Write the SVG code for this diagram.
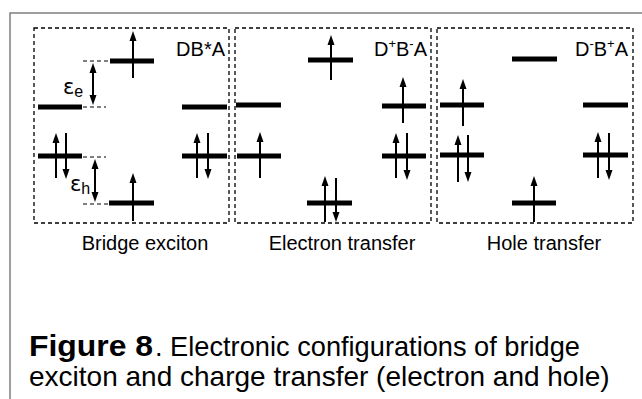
<svg xmlns="http://www.w3.org/2000/svg" width="642" height="399" viewBox="0 0 642 399">
<defs>
<marker id="ah" markerUnits="userSpaceOnUse" markerWidth="10" markerHeight="8" refX="0" refY="3.5" orient="auto-start-reverse" viewBox="0 0 10 7">
<path d="M0,0 L10,3.5 L0,7 z" fill="#000"/>
</marker>
</defs>
<style>
.frame{fill:none;stroke:#7f7f7f;stroke-width:1.5}
.box{fill:none;stroke:#000;stroke-width:1.3;stroke-dasharray:4 3}
.lvl{fill:#000}
.sp{stroke:#000;stroke-width:2;fill:none;marker-end:url(#ah)}
.dbl{stroke:#000;stroke-width:2;fill:none;marker-end:url(#ah);marker-start:url(#ah)}
.lead{stroke:#000;stroke-width:1;stroke-dasharray:4 3;fill:none}
.t{font-family:"Liberation Sans",Arial,sans-serif;fill:#000}
.lab{font-size:20px;text-anchor:end}
.sup{font-size:13px}
.sub{font-size:20px;text-anchor:middle}
.eps{font-family:"DejaVu Sans",sans-serif;font-size:21px}
.es{font-family:"Liberation Sans",Arial,sans-serif;font-size:16px}
.cap{font-size:28px}
</style>
<rect width="642" height="399" fill="#fff"/>
<path class="frame" d="M10,399 V13 H642"/>

<g id="bridge-exciton">
<rect class="box" x="34" y="28" width="195" height="195"/>
<text class="t lab" x="225" y="56">DB*A</text>
<rect class="lvl" x="110" y="58.5" width="44" height="5"/>
<rect class="lvl" x="38" y="104.5" width="44" height="5"/>
<rect class="lvl" x="182" y="104.5" width="45" height="5"/>
<rect class="lvl" x="38" y="153.5" width="44" height="5"/>
<rect class="lvl" x="182" y="153.5" width="45" height="5"/>
<rect class="lvl" x="109" y="200.5" width="45" height="5"/>
<line class="sp" x1="133" y1="78" x2="133" y2="41"/>
<line class="sp" x1="56" y1="178" x2="56" y2="143"/>
<line class="sp" x1="66" y1="133" x2="66" y2="169"/>
<line class="sp" x1="197" y1="178" x2="197" y2="143"/>
<line class="sp" x1="208" y1="133" x2="208" y2="169"/>
<line class="sp" x1="133" y1="221" x2="133" y2="183"/>
<path class="lead" d="M83,61 H108 M83,107 H106 M83,157 H106 M83,204 H108"/>
<line class="dbl" x1="93" y1="73" x2="93" y2="95"/>
<line class="dbl" x1="95" y1="169" x2="95" y2="192"/>
<text class="t eps" x="63" y="94">ε<tspan class="es" dy="3">e</tspan></text>
<text class="t eps" x="70" y="191">ε<tspan class="es" dy="3">h</tspan></text>
<text class="t sub" x="145" y="250">Bridge exciton</text>
</g>

<g id="electron-transfer">
<rect class="box" x="235" y="28" width="196" height="195"/>
<text class="t lab" x="427" y="56">D<tspan class="sup" dy="-8">+</tspan><tspan dy="8">B</tspan><tspan class="sup" dy="-8">-</tspan><tspan dy="8">A</tspan></text>
<rect class="lvl" x="308" y="57.5" width="45" height="5"/>
<rect class="lvl" x="236" y="102.5" width="45" height="5"/>
<rect class="lvl" x="382" y="103.5" width="44" height="5"/>
<rect class="lvl" x="237" y="153.5" width="44" height="5"/>
<rect class="lvl" x="382" y="153.5" width="44" height="5"/>
<rect class="lvl" x="307" y="200.5" width="45" height="5"/>
<line class="sp" x1="331" y1="80" x2="331" y2="45"/>
<line class="sp" x1="403" y1="123" x2="403" y2="87"/>
<line class="sp" x1="260" y1="178" x2="260" y2="142"/>
<line class="sp" x1="396" y1="178" x2="396" y2="143"/>
<line class="sp" x1="407" y1="133" x2="407" y2="170"/>
<line class="sp" x1="325" y1="222" x2="325" y2="186"/>
<line class="sp" x1="336" y1="178" x2="336" y2="212"/>
<text class="t sub" x="342" y="250">Electron transfer</text>
</g>

<g id="hole-transfer">
<rect class="box" x="437" y="28" width="196" height="195"/>
<text class="t lab" x="628" y="56">D<tspan class="sup" dy="-8">-</tspan><tspan dy="8">B</tspan><tspan class="sup" dy="-8">+</tspan><tspan dy="8">A</tspan></text>
<rect class="lvl" x="512" y="56.5" width="45" height="5"/>
<rect class="lvl" x="440" y="102.5" width="44" height="5"/>
<rect class="lvl" x="583" y="102.5" width="45" height="5"/>
<rect class="lvl" x="440" y="152.5" width="44" height="5"/>
<rect class="lvl" x="583" y="152.5" width="45" height="5"/>
<rect class="lvl" x="512" y="200.5" width="44" height="5"/>
<line class="sp" x1="463" y1="126" x2="463" y2="89"/>
<line class="sp" x1="458" y1="182" x2="458" y2="145"/>
<line class="sp" x1="468" y1="135" x2="468" y2="172"/>
<line class="sp" x1="598" y1="178" x2="598" y2="142"/>
<line class="sp" x1="609" y1="133" x2="609" y2="170"/>
<line class="sp" x1="534" y1="222" x2="534" y2="186"/>
<text class="t sub" x="544" y="250">Hole transfer</text>
</g>

<g id="caption">
<text class="t cap" x="29" y="356"><tspan font-weight="bold" font-size="29" textLength="124" lengthAdjust="spacingAndGlyphs">Figure 8</tspan><tspan x="155" textLength="425" lengthAdjust="spacingAndGlyphs">. Electronic configurations of bridge</tspan></text>
<text class="t cap" x="29" y="386">exciton and charge transfer (electron and hole)</text>
</g>
</svg>
